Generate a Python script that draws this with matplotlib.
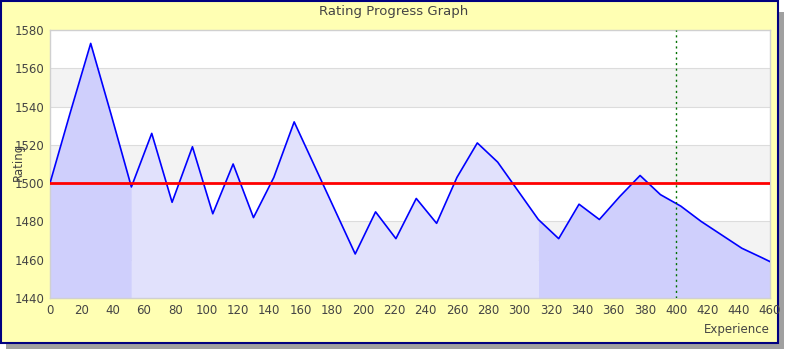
import matplotlib.pyplot as plt
from matplotlib.patches import Rectangle

# Datos
experiencia = [0, 13, 26, 39, 52, 65, 78, 91, 104, 117, 130, 143, 156, 169, 182,
               195, 208, 221, 234, 247, 260, 273, 286, 299, 312, 325, 338, 351,
               364, 377, 390, 403, 416, 429, 442, 455, 460]
rating = [1500, 1537, 1573, 1536, 1498, 1526, 1490, 1519, 1484, 1510, 1482, 1503,
          1532, 1509, 1486, 1463, 1485, 1471, 1492, 1479, 1503, 1521, 1511, 1496,
          1481, 1471, 1489, 1481, 1493, 1504, 1494, 1488, 1480, 1473, 1466, 1461, 1459]
# tramos del relleno (inicio, fin, color)
tramos = [(0, 52, "#cfcffc"), (52, 312, "#e1e1fc"), (312, 460, "#cfcffc")]
rating_base = 1500
marca_x = 400

W, H = 790, 350
fig = plt.figure(figsize=(W / 100, H / 100), dpi=100, facecolor="white")

# sombra y marco del gráfico (detrás de los ejes)
fig.patches.append(Rectangle((6 / W, 1 / H), 778 / W, 337 / H, transform=fig.transFigure,
                             facecolor="#a0a0a0", edgecolor="none", zorder=-2))
fig.patches.append(Rectangle((1 / W, 7 / H), 777 / W, 342 / H, transform=fig.transFigure,
                             facecolor="#ffffb3", edgecolor="#000080", linewidth=1.5, zorder=-1))

ax = fig.add_axes([50 / W, 1 - 298 / H, 720 / W, 268 / H])
ax.set_facecolor("white")

# bandas alternas (gris en 1460-1480, 1500-1520, 1540-1560)
for y0 in range(1440, 1580, 20):
    if (y0 // 20) % 2 == 1:
        ax.axhspan(y0, y0 + 20, color="#f3f3f3", zorder=0, lw=0)
for y0 in range(1460, 1580, 20):
    ax.axhline(y0, color="#dcdcdc", lw=0.8, zorder=0.5)

# relleno por tramos
for x0, x1, color in tramos:
    xs, ys = [], []
    for x, r in zip(experiencia, rating):
        if x0 <= x <= x1:
            xs.append(x)
            ys.append(r)
    ax.fill_between(xs, ys, 1440, color=color, lw=0, zorder=1)

ax.plot(experiencia, rating, color="#0000ff", lw=1.2, zorder=3)
ax.axhline(rating_base, color="#ff0000", lw=2, zorder=4)
ax.axvline(marca_x, color="#007000", lw=1, ls=(0, (1.5, 2.5)), zorder=4)

ax.set_xlim(0, 460)
ax.set_ylim(1440, 1580)
ax.set_xticks(range(0, 461, 20))
ax.set_yticks(range(1440, 1581, 20))
ax.tick_params(length=0, labelsize=8.5, colors="#444444", pad=4)
for s in ax.spines.values():
    s.set_color("#d0d0d0")
    s.set_linewidth(1)

fig.text(394 / W, 1 - 11 / H, "Rating Progress Graph", ha="center", va="center",
         fontsize=9.5, color="#444444")
fig.text(18 / W, 1 - 162 / H, "Rating", ha="center", va="center", rotation=90,
         fontsize=8.5, color="#444444")
fig.text(770 / W, 1 - 329 / H, "Experience", ha="right", va="center",
         fontsize=8.5, color="#444444")

fig.savefig("out.png", dpi=100, facecolor="white")
